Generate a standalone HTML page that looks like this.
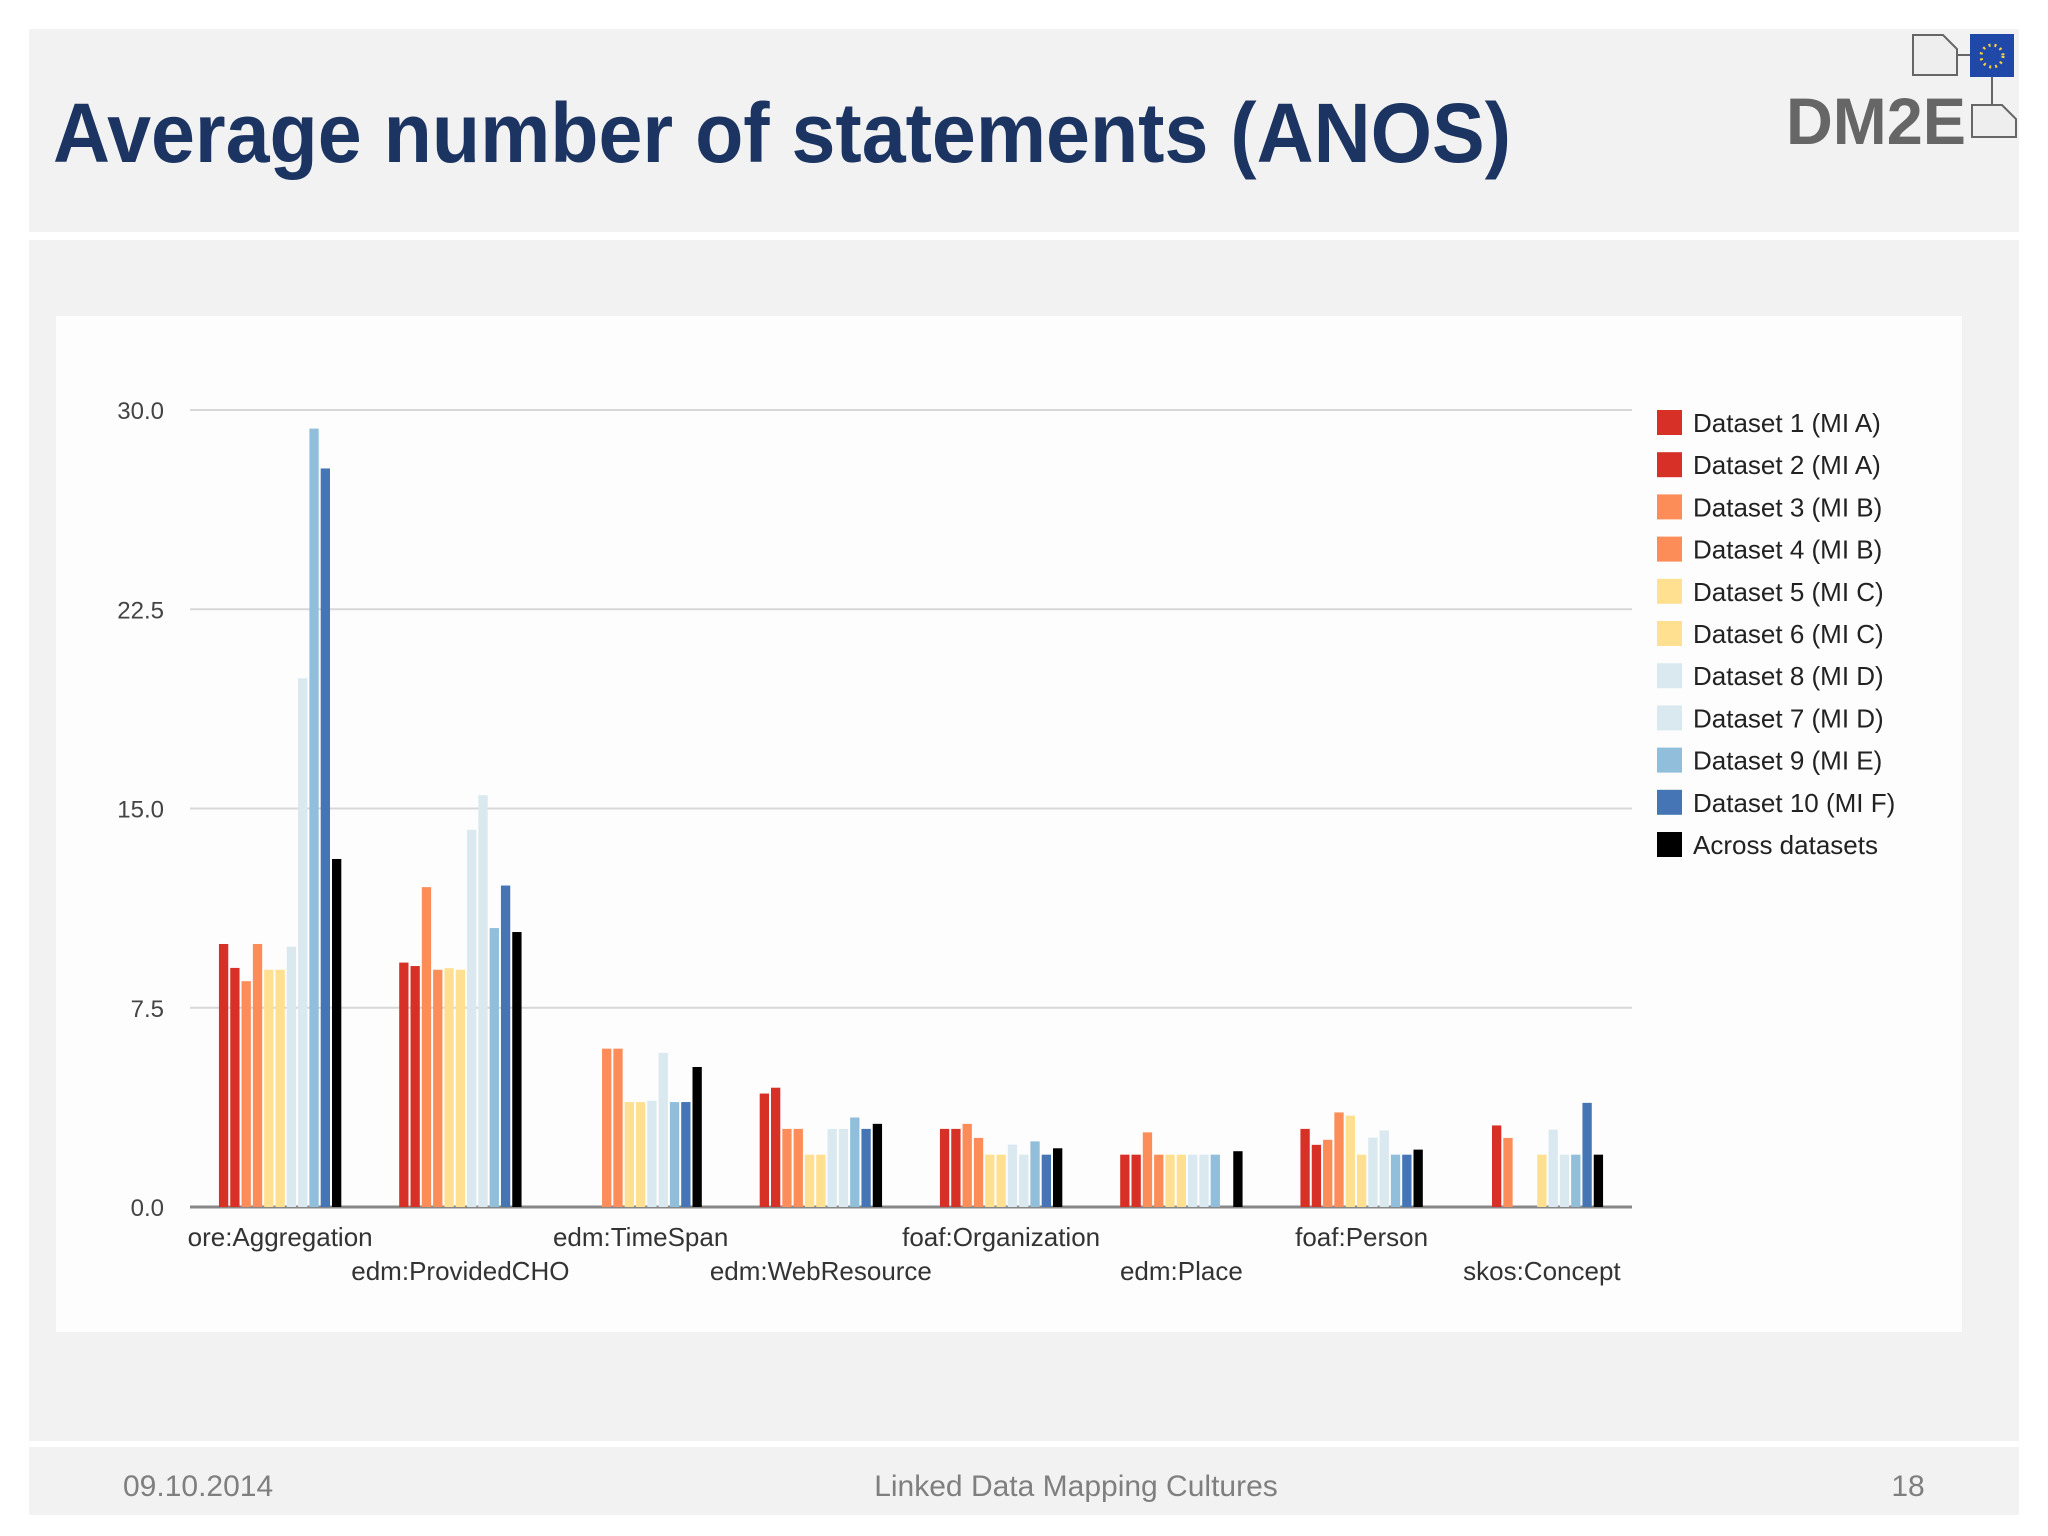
<!DOCTYPE html>
<html><head><meta charset="utf-8"><style>
html,body{margin:0;padding:0;background:#fff;}
svg{display:block;}
text{font-family:"Liberation Sans",sans-serif;}
</style></head><body>
<svg id="s" width="2048" height="1536" viewBox="0 0 2048 1536" xmlns="http://www.w3.org/2000/svg">
<rect x="29" y="29" width="1990" height="203" fill="#f2f2f2"/>
<rect x="29" y="240" width="1990" height="1201" fill="#f2f2f2"/>
<rect x="29" y="1447" width="1990" height="68" fill="#f2f2f2"/>
<text x="53" y="162" font-size="84" font-weight="bold" fill="#1c3461" textLength="1458" lengthAdjust="spacingAndGlyphs">Average number of statements (ANOS)</text>
<g>
<text x="1786" y="144" font-size="66" font-weight="bold" fill="#666" textLength="180" lengthAdjust="spacingAndGlyphs">DM2E</text>
<path d="M1913 35 h30 l14 14 v26 h-44 z" fill="#eee" stroke="#666" stroke-width="2"/>
<rect x="1970" y="34" width="44" height="43" fill="#1f48a8"/>
<circle cx="1992" cy="56" r="11" fill="none" stroke="#f5d33a" stroke-width="3" stroke-dasharray="2 4"/>
<path d="M1972 105 h30 l14 14 v18 h-44 z" fill="#eee" stroke="#666" stroke-width="2"/>
<path d="M1957 55 h13 M1992 77 v28" stroke="#666" stroke-width="2"/>
</g>
<rect x="56" y="316" width="1906" height="1016" fill="#fdfdfd"/>
<g id="grid"></g><g id="bars"></g><g id="labels"></g><g id="legend"></g>
<text x="123" y="1496" font-size="30" fill="#7f7f7f">09.10.2014</text>
<text x="1076" y="1496" font-size="30" fill="#7f7f7f" text-anchor="middle">Linked Data Mapping Cultures</text>
<text x="1908" y="1496" font-size="30" fill="#7f7f7f" text-anchor="middle">18</text>
</svg>
<script>
const categories=["ore:Aggregation","edm:ProvidedCHO","edm:TimeSpan","edm:WebResource","foaf:Organization","edm:Place","foaf:Person","skos:Concept"];
const seriesNames=["Dataset 1 (MI A)","Dataset 2 (MI A)","Dataset 3 (MI B)","Dataset 4 (MI B)","Dataset 5 (MI C)","Dataset 6 (MI C)","Dataset 8 (MI D)","Dataset 7 (MI D)","Dataset 9 (MI E)","Dataset 10 (MI F)","Across datasets"];
const seriesColors=["#d73027","#d73027","#fc8d59","#fc8d59","#fee090","#fee090","#d9e9ef","#d9e9ef","#91bfdb","#4575b4","#000000"];
const d1=[9.9,9.2,0,4.27,2.94,1.97,2.94,0];
const d2=[9.0,9.07,0,4.49,2.94,1.97,2.34,3.07];
const d3=[8.5,12.04,5.96,2.94,3.13,2.81,2.53,2.6];
const d4=[9.9,8.93,5.96,2.94,2.6,1.97,3.56,0];
const d5=[8.93,8.99,3.95,1.97,1.97,1.97,3.44,0];
const d6=[8.93,8.93,3.95,1.97,1.97,1.97,1.97,1.97];
const d8=[9.8,14.2,4.0,2.94,2.35,1.97,2.61,2.91];
const d7=[19.9,15.5,5.8,2.94,1.97,1.97,2.88,1.97];
const d9=[29.3,10.5,3.95,3.37,2.47,1.97,1.97,1.97];
const d10=[27.8,12.1,3.95,2.94,1.97,0,1.97,3.92];
const across=[13.1,10.35,5.27,3.13,2.21,2.1,2.16,1.97];
const yTicks=[0,7.5,15,22.5,30];
const yTickLabels=["0.0","7.5","15.0","22.5","30.0"];
const series=[d1,d2,d3,d4,d5,d6,d8,d7,d9,d10,across];
const NS="http://www.w3.org/2000/svg";
const X0=190,X1=1632,YB=1207,YT=410,YMAX=30;
const y=v=>YB-(v/YMAX)*(YB-YT);
const band=(X1-X0)/categories.length;
const xc=i=>X0+band*(i+0.5);
function mk(tag,attrs,parent){const e=document.createElementNS(NS,tag);for(const k in attrs)e.setAttribute(k,attrs[k]);document.getElementById(parent).appendChild(e);return e;}
yTicks.forEach((t,i)=>{
 const l=mk("line",{x1:X0,x2:X1,y1:y(t),y2:y(t),stroke:t===0?"#888":"#d8d8d8","stroke-width":t===0?3:2},"grid");
 
 
 const tx=mk("text",{x:164,y:y(t)+9,"font-size":24,fill:"#444","text-anchor":"end"},"grid");
 tx.textContent=yTickLabels[i];
 
 
});
const pitch=band*0.69/series.length;
categories.forEach((c,ci)=>{
 const gx=xc(ci)-pitch*series.length/2;
 series.forEach((s,si)=>{
  const v=s[ci]; if(!v) return;
  const r=mk("rect",{x:gx+si*pitch+1,y:y(v),width:pitch-2,height:YB-y(v),fill:seriesColors[si]},"bars");
  
  
 });
 const t=mk("text",{x:xc(ci),y:ci%2?1280:1246,"font-size":26,fill:"#333","text-anchor":"middle"},"labels");
 t.textContent=c;
 
 
});
seriesNames.forEach((n,i)=>{
 const yy=422+i*42.2;
 const r=mk("rect",{x:1657,y:yy-12,width:25,height:25,fill:seriesColors[i]},"legend");
 
 
 const t=mk("text",{x:1693,y:yy+10,"font-size":26,fill:"#222"},"legend");
 t.textContent=n;
 
 
});
</script>
</body></html>
